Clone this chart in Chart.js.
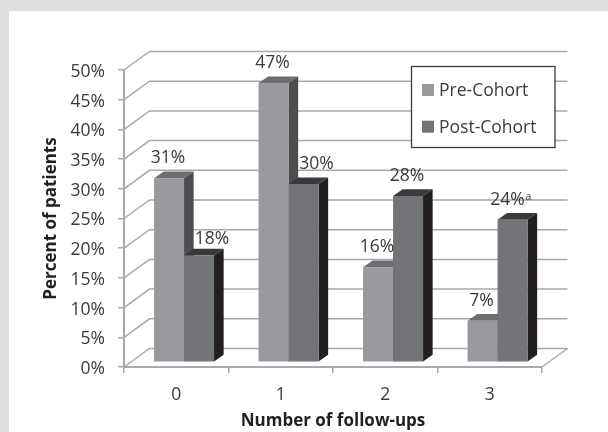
<!DOCTYPE html>
<html>
<head>
<meta charset="utf-8">
<script src="https://cdn.jsdelivr.net/npm/chart.js@4"></script>
<style>
  html, body { margin: 0; padding: 0; background: #dcddde; }
  #panel { position: absolute; left: 9px; top: 11px; width: 599px; height: 421px; background: #fff; }
  #chart { position: absolute; left: 0; top: 0; }
</style>
</head>
<body>
<div id="panel"></div>
<canvas id="chart" width="608" height="432"></canvas>
<script>
const categories = ["0", "1", "2", "3"];
const preCohort = [31, 47, 16, 7];
const postCohort = [18, 30, 28, 24];
const postNotes = ["", "", "", "a"];
const yMax = 50;
const yStep = 5;

const FONT = '"Open Sans", sans-serif';
const TEXT = "#3a3a3c";
const GRID = "#a7a9ac";

// box colours per series: front, top, side
const preColors = { front: "#939598", top: "#6d6e71", side: "#4d4d4f" };
const postColors = { front: "#6d6e71", top: "#3a3a3c", side: "#231f20" };
const colors = [preColors, postColors];

const wall = { dx: 25.5, dy: 18.5 };   // back wall offset from the front plane
const barShift = { dx: 7.8, dy: 4.7 }; // bars stand a bit behind the front plane
const depth = { dx: 9.6, dy: 6.7 };

const walls3d = {
  id: "walls3d",
  beforeDraw(chart) {
    // y labels sit a touch under their ticks in the reference
    chart.scales.y.getLabelItems().forEach((item) => {
      item.options.translation[1] = chart.scales.y.getPixelForValue(item.label.replace("%", "")) + 2;
    });
  },
  beforeDatasetsDraw(chart) {
    const { ctx, chartArea: a, scales } = chart;
    ctx.save();
    ctx.strokeStyle = GRID;
    ctx.lineWidth = 1.5;
    scales.y.ticks.forEach((t) => {
      const y = scales.y.getPixelForValue(t.value);
      ctx.beginPath();
      ctx.moveTo(a.left, y);
      ctx.lineTo(a.left + wall.dx, y - wall.dy);
      ctx.lineTo(a.right + wall.dx, y - wall.dy);
      ctx.stroke();
    });
    const y0 = scales.y.getPixelForValue(0);
    ctx.beginPath();
    ctx.moveTo(a.right, y0);
    ctx.lineTo(a.right + wall.dx, y0 - wall.dy);
    ctx.stroke();
    ctx.restore();
  },
};

const bars3d = {
  id: "bars3d",
  // the boxes are drawn here, pre before post, so skip the default pass
  beforeDatasetDraw() {
    return false;
  },
  afterDatasetsDraw(chart) {
    const { ctx } = chart;
    ctx.save();
    ctx.translate(barShift.dx, -barShift.dy);
    chart.data.datasets.forEach((ds, i) => {
      const c = colors[i];
      chart.getDatasetMeta(i).data.forEach((bar) => {
        const l = bar.x - bar.width / 2;
        const r = bar.x + bar.width / 2;
        ctx.fillStyle = c.top;
        ctx.beginPath();
        ctx.moveTo(l, bar.y);
        ctx.lineTo(l + depth.dx, bar.y - depth.dy);
        ctx.lineTo(r + depth.dx, bar.y - depth.dy);
        ctx.lineTo(r, bar.y);
        ctx.fill();
        ctx.fillStyle = c.side;
        ctx.beginPath();
        ctx.moveTo(r, bar.y);
        ctx.lineTo(r + depth.dx, bar.y - depth.dy);
        ctx.lineTo(r + depth.dx, bar.base - depth.dy);
        ctx.lineTo(r, bar.base);
        ctx.fill();
        bar.draw(ctx);
      });
    });
    ctx.restore();
  },
};

const valueLabels = {
  id: "valueLabels",
  afterDatasetsDraw(chart) {
    const { ctx } = chart;
    ctx.save();
    ctx.fillStyle = TEXT;
    ctx.font = "17.5px " + FONT;
    ctx.textAlign = "center";
    ctx.textBaseline = "middle";
    chart.data.datasets.forEach((ds, i) => {
      chart.getDatasetMeta(i).data.forEach((bar, j) => {
        // the two short post bars push their label off the neighbour
        const nudge = i === 1 && ds.data[j] < preCohort[j] ? 13 : (i === 1 && j === 3 ? -5 : -1);
        const up = i === 1 && j === 0 ? 21 : 24.5;
        const x = bar.x + barShift.dx + nudge;
        const y = bar.y - up;
        const txt = ds.data[j] + "%";
        ctx.fillText(txt, x, y);
        if (i === 1 && postNotes[j]) {
          const w = ctx.measureText(txt).width;
          ctx.save();
          ctx.font = "11px " + FONT;
          ctx.textAlign = "left";
          ctx.fillText(postNotes[j], x + w / 2 + 0.5, y - 3);
          ctx.restore();
        }
      });
    });
    ctx.restore();
  },
};

const boxLegend = {
  id: "boxLegend",
  afterDraw(chart) {
    const { ctx } = chart;
    ctx.save();
    ctx.fillStyle = "#fff";
    ctx.strokeStyle = "#3a3a3c";
    ctx.lineWidth = 1.3;
    ctx.fillRect(411.5, 66.5, 143.5, 81);
    ctx.strokeRect(411.5, 66.5, 143.5, 81);
    ctx.font = "17.5px " + FONT;
    ctx.textBaseline = "middle";
    chart.data.datasets.forEach((ds, i) => {
      const y = 90 + i * 36.7;
      ctx.fillStyle = ds.backgroundColor;
      ctx.fillRect(422, y - 6, 12, 12);
      ctx.fillStyle = TEXT;
      ctx.fillText(ds.label, 439, y + 1.5);
    });
    ctx.restore();
  },
};

new Chart(document.getElementById("chart"), {
  type: "bar",
  data: {
    labels: categories,
    datasets: [
      { label: "Pre-Cohort", data: preCohort, backgroundColor: "#98999c" },
      { label: "Post-Cohort", data: postCohort, backgroundColor: "#737477" },
    ],
  },
  options: {
    responsive: false,
    animation: false,
    categoryPercentage: 0.574,
    barPercentage: 1,
    layout: { padding: { left: 0, right: 66, top: 70, bottom: 0 } },
    plugins: { legend: { display: false }, tooltip: { enabled: false } },
    scales: {
      y: {
        min: 0,
        max: yMax,
        afterFit: (s) => { s.width = 124; },
        border: { color: GRID, width: 2 },
        grid: { drawOnChartArea: false, color: GRID, lineWidth: 1.5, tickLength: 6 },
        ticks: {
          stepSize: yStep,
          color: TEXT,
          padding: 13,
          font: { family: FONT, size: 17.5 },
          callback: (v) => v + "%",
        },
        title: {
          display: true,
          text: "Percent of patients",
          color: "#231f20",
          padding: { top: 41, bottom: 0 },
          font: { family: FONT, size: 17, weight: "bold" },
        },
      },
      x: {
        afterFit: (s) => { s.height = 65; },
        border: { color: GRID, width: 2 },
        grid: { drawOnChartArea: false, color: GRID, lineWidth: 1.5, tickLength: 6 },
        ticks: { color: TEXT, padding: 12, maxRotation: 0, font: { family: FONT, size: 17.5 } },
        title: {
          display: true,
          text: "Number of follow-ups",
          color: "#231f20",
          padding: { top: 0, bottom: 1 },
          font: { family: FONT, size: 17, weight: "bold" },
        },
      },
    },
  },
  plugins: [walls3d, bars3d, valueLabels, boxLegend],
});
</script>
</body>
</html>
